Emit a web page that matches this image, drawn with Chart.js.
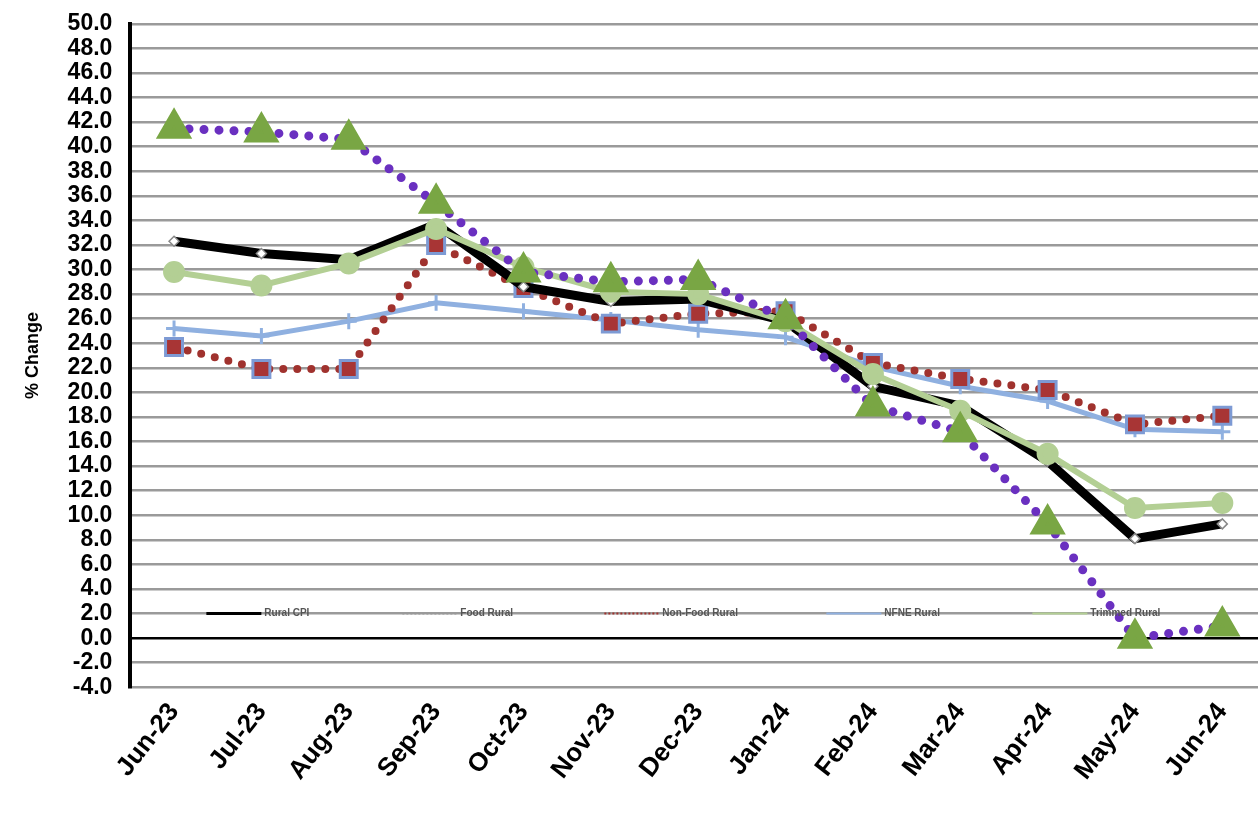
<!DOCTYPE html>
<html>
<head>
<meta charset="utf-8">
<script src="https://cdn.jsdelivr.net/npm/chart.js@4"></script>
<style>
body{margin:0;background:#fff;overflow:hidden}
#wrap{width:1287px;height:814px}
</style>
</head>
<body>
<div id="wrap"><canvas id="graph1"></canvas></div>
<script>
const months = ["Jun-23","Jul-23","Aug-23","Sep-23","Oct-23","Nov-23","Dec-23","Jan-24","Feb-24","Mar-24","Apr-24","May-24","Jun-24"];
const ruralCpi = [32.3,31.3,30.8,33.7,28.6,27.4,27.6,25.8,20.5,18.9,14.4,8.1,9.3];
const foodRural = [41.5,41.2,40.6,35.4,29.8,29.0,29.2,26.0,18.9,16.8,9.3,0.0,1.0];
const nonFoodRural = [23.7,21.9,21.9,32.0,28.5,25.6,26.4,26.6,22.4,21.1,20.2,17.4,18.1];
const nfneRural = [25.2,24.6,25.8,27.3,26.6,25.9,25.1,24.5,22.1,20.5,19.3,17.0,16.8];
const trimmedRural = [29.8,28.7,30.5,33.3,30.2,28.2,28.0,25.8,21.5,18.5,15.0,10.6,11.0];
const legendNames = ["Rural CPI","Food Rural","Non-Food Rural","NFNE Rural","Trimmed Rural"];
const legendColors = ["#000000","#999999","#a0322e","#8fb0e0","#b3cf94"];
const legendTextX = [134,330,532,754,960];

// legend sits inside the plot on the 2.0 line
const insideLegend = {
  id: "insideLegend",
  afterDatasetsDraw(chart){
    const c = chart.ctx, a = chart.chartArea;
    const y = chart.scales.y.getPixelForValue(2);
    c.save();
    c.font = "bold 10px Arial";
    c.textBaseline = "middle";
    for(let i=0;i<legendNames.length;i++){
      const tx = a.left + legendTextX[i];
      c.strokeStyle = legendColors[i];
      c.lineWidth = i==0 ? 3 : 2;
      if(i==1 || i==2) c.setLineDash([2,2]); else c.setLineDash([]);
      c.beginPath(); c.moveTo(tx-58,y); c.lineTo(tx-3,y); c.stroke();
      c.setLineDash([]);
      c.fillStyle = "#555";
      c.fillText(legendNames[i], tx, y);
    }
    c.restore();
  }
};

new Chart(document.getElementById("graph1"), {
  type: "line",
  data: {
    labels: months,
    datasets: [
      {label:"NFNE Rural", data:nfneRural, borderColor:"#8fb0e0", borderWidth:5,
       pointStyle:"cross", pointRadius:8, pointBorderColor:"#8fb0e0", pointBorderWidth:3, order:5},
      {label:"Non-Food Rural", data:nonFoodRural, borderColor:"#a0322e", borderWidth:8,
       borderDash:[0,14], borderCapStyle:"round", pointStyle:"rect", pointRadius:12,
       pointBackgroundColor:"#a83535", pointBorderColor:"#7d9ad4", pointBorderWidth:3, order:4},
      {label:"Rural CPI", data:ruralCpi, borderColor:"#000000", borderWidth:9,
       pointStyle:"rectRot", pointRadius:5, pointBackgroundColor:"#ffffff", pointBorderColor:"#888", pointBorderWidth:1.5, order:3},
      {label:"Trimmed Rural", data:trimmedRural, borderColor:"#b3cf94", borderWidth:6,
       pointStyle:"circle", pointRadius:8, pointBackgroundColor:"#b3cf94", pointBorderColor:"#b3cf94", order:2},
      {label:"Food Rural", data:foodRural, borderColor:"#6a30c0", borderWidth:9,
       borderDash:[0,15], borderCapStyle:"round", pointStyle:"triangle", pointRadius:12,
       pointBackgroundColor:"#79a644", pointBorderColor:"#79a644", order:1}
    ]
  },
  options: {
    responsive:true, maintainAspectRatio:false, animation:false,
    layout:{padding:{top:2,left:22,right:0,bottom:26}},
    plugins:{legend:{display:false}, tooltip:{enabled:false}},
    scales:{
      x:{
        offset:true,
        grid:{display:false},
        border:{display:false},
        ticks:{color:"#000", font:{family:"Arial", size:26, weight:"bold"}, maxRotation:52, minRotation:52, padding:2, autoSkip:false}
      },
      y:{
        min:-4, max:50,
        grid:{color:(ctx)=> ctx.tick.value===0 ? "#000" : "#9a9a9a", lineWidth:2.5,
          drawTicks:true, tickLength:8, tickColor:"transparent"},
        border:{display:true, color:"#000", width:4},
        ticks:{stepSize:2, autoSkip:false, color:"#000", padding:10, font:{family:"Arial", size:23, weight:"bold"},
          callback:(v)=> Number(v).toFixed(1)},
        title:{display:true, text:"% Change", color:"#000", font:{family:"Arial", size:18, weight:"bold"}, padding:{top:0,bottom:14}}
      }
    }
  },
  plugins:[insideLegend]
});
</script>
</body>
</html>
